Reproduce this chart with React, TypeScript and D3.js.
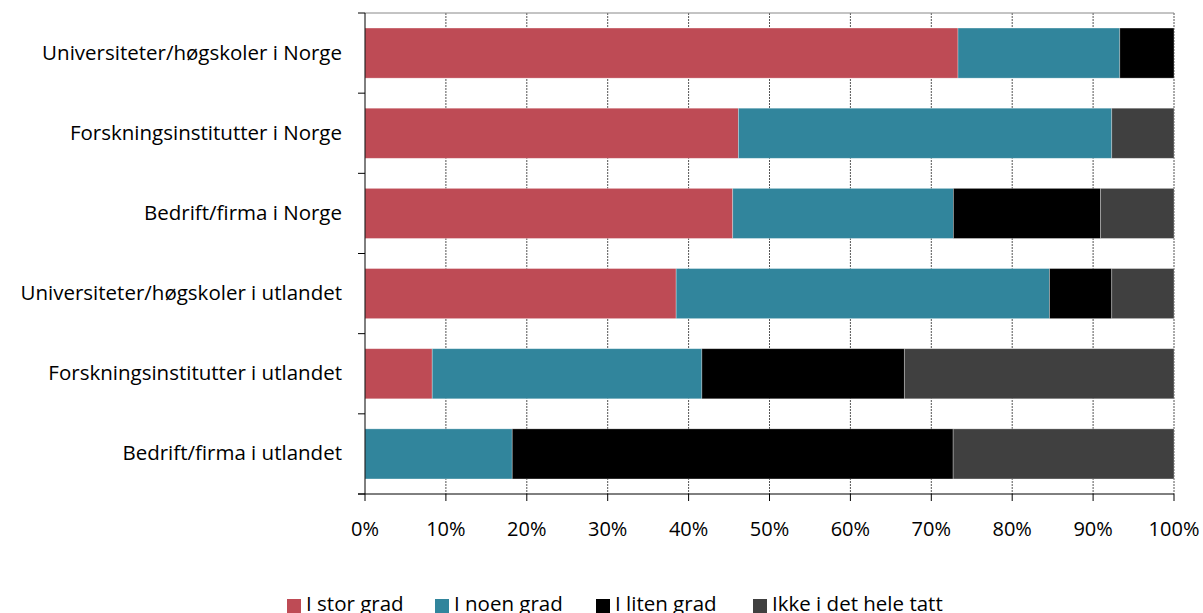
import React from "react";
import * as d3 from "d3";

const categories = [
  "Universiteter/høgskoler i Norge",
  "Forskningsinstitutter i Norge",
  "Bedrift/firma i Norge",
  "Universiteter/høgskoler i utlandet",
  "Forskningsinstitutter i utlandet",
  "Bedrift/firma i utlandet",
];
const seriesNames = ["I stor grad", "I noen grad", "I liten grad", "Ikke i det hele tatt"];
const seriesColors = ["#BE4B55", "#31859C", "#000000", "#404040"];
const iStorGrad = [73.3, 46.2, 45.5, 38.5, 8.3, 0];
const iNoenGrad = [20.0, 46.2, 27.3, 46.2, 33.3, 18.2];
const iLitenGrad = [6.7, 0, 18.2, 7.7, 25.0, 54.5];
const ikkeIDetHeleTatt = [0, 7.7, 9.1, 7.7, 33.3, 27.3];
const xTicks = [0, 10, 20, 30, 40, 50, 60, 70, 80, 90, 100];

const W = 1203;
const H = 613;
const left = 365;
const right = 1174;
const top = 13;
const bottom = 494;
const FONT = "'Open Sans', sans-serif";

export default function App() {
  const x = d3.scaleLinear().domain([0, 100]).range([left, right]);
  const y = d3
    .scaleBand<string>()
    .domain(categories)
    .range([top, bottom])
    .paddingInner(0.375)
    .paddingOuter(0.1875);

  const rows = categories.map((c, i) => ({
    cat: c,
    vals: [iStorGrad[i], iNoenGrad[i], iLitenGrad[i], ikkeIDetHeleTatt[i]],
  }));
  const stack = d3
    .stack<any>()
    .keys(["0", "1", "2", "3"])
    .value((d: any, k: string) => d.vals[+k])
    .offset(d3.stackOffsetExpand);
  const stacked = stack(rows);

  const step = y.step();
  const boundaries = d3.range(categories.length + 1).map((i) => top + i * step);

  const legendX = [287, 435, 596, 753];

  return (
    <svg
      width={W}
      height={H}
      style={{ position: "absolute", left: 0, top: 0, background: "#fff" }}
      fontFamily={FONT}
    >
      {/* gridlines */}
      {xTicks.slice(1).map((t) => (
        <line
          key={"g" + t}
          x1={x(t)}
          x2={x(t)}
          y1={top}
          y2={bottom}
          stroke="#555"
          strokeWidth={1}
          strokeDasharray="2,1"
        />
      ))}
      {/* top border */}
      <line x1={left} x2={right} y1={top} y2={top} stroke="#888" strokeWidth={1} />
      {/* bars */}
      {stacked.map((s, si) => (
        <g key={si} fill={seriesColors[si]}>
          {s.map((d, i) =>
            d[1] - d[0] > 0 ? (
              <rect
                key={i}
                x={x(d[0] * 100)}
                y={y(categories[i])}
                width={x(d[1] * 100) - x(d[0] * 100)}
                height={y.bandwidth()}
                stroke="#fff"
                strokeOpacity={0.4}
                strokeWidth={0.75}
              />
            ) : null
          )}
        </g>
      ))}
      {/* y axis */}
      <line x1={left} x2={left} y1={top} y2={bottom} stroke="#000" strokeWidth={1} />
      {boundaries.map((b, i) => (
        <line key={"yt" + i} x1={left - 7} x2={left} y1={b} y2={b} stroke="#000" />
      ))}
      {categories.map((c) => (
        <text
          key={c}
          x={342}
          y={(y(c) as number) + y.bandwidth() / 2 + 6.5}
          textAnchor="end"
          fontSize={20.5}
          fill="#000"
        >
          {c}
        </text>
      ))}
      {/* x axis */}
      <line x1={left - 7} x2={right} y1={bottom} y2={bottom} stroke="#000" strokeWidth={1} />
      {xTicks.map((t) => (
        <g key={"xt" + t}>
          <line x1={x(t)} x2={x(t)} y1={bottom} y2={bottom + 7} stroke="#000" />
          <text x={x(t)} y={536} textAnchor="middle" fontSize={20} fill="#000">
            {t + "%"}
          </text>
        </g>
      ))}
      {/* legend */}
      {seriesNames.map((n, i) => (
        <g key={n}>
          <rect x={legendX[i]} y={599} width={14} height={14} fill={seriesColors[i]} />
          <text x={legendX[i] + 19} y={611} fontSize={20.5} fill="#000">
            {n}
          </text>
        </g>
      ))}
    </svg>
  );
}
